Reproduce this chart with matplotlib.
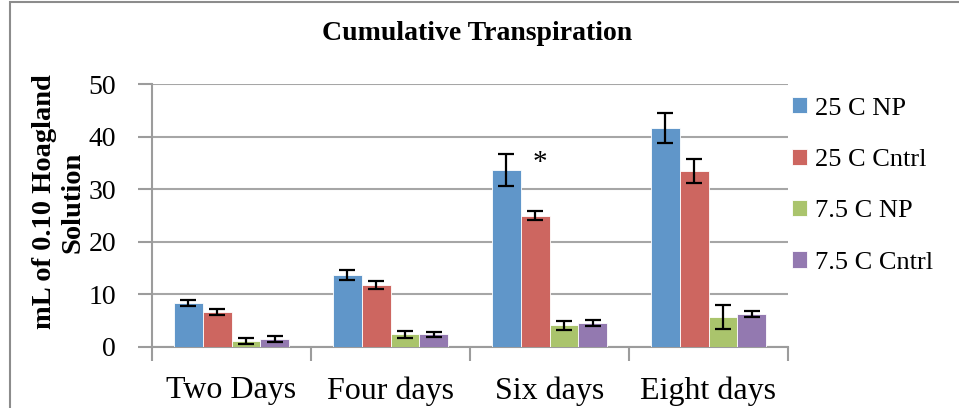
import numpy as np
import matplotlib
matplotlib.use('Agg')
import matplotlib.pyplot as plt
from matplotlib.patches import Rectangle

# Daten
categories = ['Two Days', 'Four days', 'Six days', 'Eight days']
series_names = ['25 C NP', '25 C Cntrl', '7.5 C NP', '7.5 C Cntrl']
np25 = [8.4, 13.7, 33.6, 41.6]
cntrl25 = [6.7, 11.8, 25.0, 33.5]
np75 = [1.1, 2.4, 4.1, 5.7]
cntrl75 = [1.5, 2.4, 4.6, 6.3]
err_np25 = [0.6, 0.95, 3.0, 2.9]
err_cntrl25 = [0.6, 0.7, 0.9, 2.3]
err_np75 = [0.6, 0.65, 0.85, 2.3]
err_cntrl75 = [0.5, 0.5, 0.55, 0.6]
y_ticks = [0, 10, 20, 30, 40, 50]

values = [np25, cntrl25, np75, cntrl75]
errors = [err_np25, err_cntrl25, err_np75, err_cntrl75]
colors = ['#6096C9', '#CD6660', '#AAC46C', '#9379B0']

plt.rcParams['font.family'] = ['Liberation Serif', 'DejaVu Serif']

fig = plt.figure(figsize=(9.59, 4.08), dpi=100)
ax = fig.add_axes([152 / 959, 1 - 347 / 408, (788 - 152) / 959, (347 - 84) / 408])

# Rahmen um das Diagramm
fig.patches.append(Rectangle((10 / 959, -0.1), 1.2, 1.1 - 2 / 408, transform=fig.transFigure,
                             fill=False, edgecolor='#8c8c8c', linewidth=1.5))

n = len(series_names)
bar_w = 1 / (n + 1.5)
x = np.arange(len(categories)) + 0.5
for i in range(n):
    pos = x + (i - (n - 1) / 2) * bar_w
    ax.bar(pos, values[i], width=bar_w, color=colors[i], edgecolor='white', linewidth=0.6,
           label=series_names[i], zorder=3)
    ax.errorbar(pos, values[i], yerr=errors[i], fmt='none', ecolor='black', elinewidth=1.6,
                capsize=6, capthick=1.6, zorder=4)

# Stern bei Six days (Signifikanz)
ax.text(2.44, 35.0, '*', fontsize=21, ha='center', va='center', zorder=5)

ax.set_xlim(0, 4)
ax.set_ylim(0, 50)
ax.set_yticks(y_ticks)
ax.set_xticks(np.arange(0, 5))
ax.set_xticklabels([])
ax.set_xticks(x, minor=True)
ax.set_xticklabels(categories, minor=True, fontsize=23)
ax.tick_params(axis='x', which='minor', length=0, pad=21)
ax.tick_params(axis='x', which='major', length=10, color='#9c9c9c', width=1.5, direction='out')
ax.tick_params(axis='y', length=10, color='#9c9c9c', width=1.5, labelsize=20, pad=16)

ax.grid(axis='y', color='#a6a6a6', linewidth=1.5, zorder=0)
ax.set_axisbelow(True)
for side in ['top', 'right']:
    ax.spines[side].set_visible(False)
for side in ['left', 'bottom']:
    ax.spines[side].set_color('#9c9c9c')
    ax.spines[side].set_linewidth(1.5)

fig.text(477 / 959, 1 - 33 / 408, 'Cumulative Transpiration', fontsize=20, fontweight='bold',
         ha='center', va='center')
fig.text(59 / 959, 1 - 202 / 408, 'mL of 0.10 Hoagland\nSolution', fontsize=20.5, fontweight='bold',
         rotation=90, ha='center', va='center', multialignment='center', linespacing=1.2)

fig.legend(loc='center left', bbox_to_anchor=(792 / 959, 1 - 185.5 / 408), frameon=False,
           fontsize=19, handlelength=0.57, handleheight=0.57, handletextpad=0.3,
           labelspacing=1.1, borderpad=0, borderaxespad=0)

fig.savefig('out.png', dpi=100)
